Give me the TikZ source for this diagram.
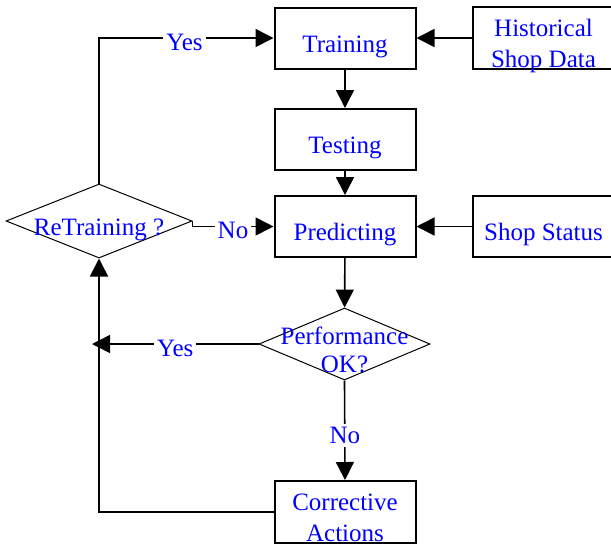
\documentclass[tikz,border=0pt]{standalone}
\usepackage{fontspec}
\setmainfont{Liberation Serif}
\usepackage{tikz}
\usetikzlibrary{arrows.meta,positioning,calc,shapes.geometric}
\tikzstyle{processBox} =[draw,line width=1pt,rectangle,minimum width=70.5pt,minimum height=30.5pt,inner sep=0pt,text=blue]
\tikzstyle{decisionBox}=[draw,line width=0.5pt,diamond,inner sep=0pt,text=blue]
\tikzstyle{edgeLabel}  =[fill=white,inner sep=1.5pt,text=blue,yshift=-2pt]
\tikzstyle{flow}       =[line width=0.8pt,-{Triangle[length=9pt,width=9pt]}]
\newcommand{\btext}[1]{\raisebox{-4pt}[\height][\depth]{\begin{tabular}{@{}c@{}}#1\end{tabular}}}
\newcommand{\dtext}[1]{\makebox[0pt]{\raisebox{-4.5pt}[\height][\depth]{\def\arraystretch{0.9}\begin{tabular}{@{}c@{}}#1\end{tabular}}}}

\begin{document}
\begin{tikzpicture}[x=0.5pt,y=-0.5pt,font=\fontsize{12.5}{15.5}\selectfont]
      \useasboundingbox (0,0) rectangle (611,543);
      % main column
      \node [processBox] (train)   at (345,38)    {\btext{Training}};
      \node [processBox] (test)    at (345,139.5) {\btext{Testing}};
      \node [processBox] (predict) at (345,226.5) {\btext{Predicting}};
      \node [decisionBox,minimum width=85.5pt,minimum height=36pt] (perf) at (344.5,344) {\dtext{Performance\\OK?}};
      \node [processBox] (correct) at (345,512)   {\btext{Corrective\\Actions}};
      % inputs
      \node [processBox] (hist)    at (543.5,38)    {\btext{Historical\\Shop Data}};
      \node [processBox] (status)  at (543.5,226.5) {\btext{Shop Status}};
      % retraining loop
      \node [decisionBox,minimum width=93pt,minimum height=37pt] (retrain) at (99,221) {\dtext{ReTraining ?}};
      \coordinate (yesEnd) at (92,344);

      \draw [flow] (train) -- (test);
      \draw [flow] (test) -- (predict);
      \draw [flow] (predict) -- (perf);
      \draw [flow] (hist) -- (train);
      \draw [flow] (status) -- (predict);
      \draw [flow] (retrain.north) |- node [edgeLabel,pos=0.745] {Yes} (train.west);
      \draw [flow] (retrain.east) |- node [edgeLabel,pos=0.75] {No} (predict.west);
      \draw [flow] (perf.west) -- node [edgeLabel] {Yes} (yesEnd);
      \draw [flow] (perf.south) -- node [edgeLabel,pos=0.55,yshift=2pt] {No} (correct.north);
      \draw [flow] (correct.west) -| (retrain.south);
    \end{tikzpicture}
\end{document}
